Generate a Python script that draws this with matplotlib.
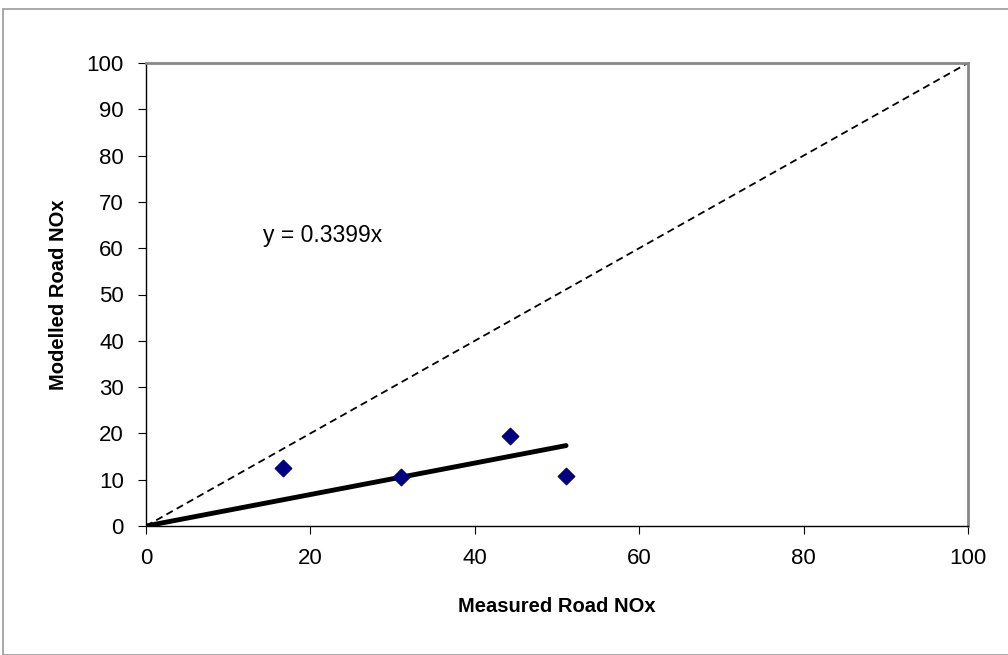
import numpy as np
import matplotlib.pyplot as plt
from matplotlib.patches import Rectangle

plt.rcParams['font.family'] = ['Liberation Sans', 'DejaVu Sans']

## measured vs modelled road NOx
measured = [16.7, 31.0, 44.3, 51.1]
modelled = [12.5, 10.5, 19.4, 10.9]
slope = 0.3399

fig = plt.figure(figsize=(10.08, 6.55), dpi=100)
ax = fig.add_axes([146/1008, 1-526/655, (968-146)/1008, (526-63)/655])

# outer chart border
fig.patches.append(Rectangle((3/1008, 0), 1.0, 1-9/655, transform=fig.transFigure,
                             fill=False, edgecolor='#999999', linewidth=1.2))

# 1:1 line
ax.plot([0, 100], [0, 100], color='black', linestyle=(0, (4, 2.5)), linewidth=1.3)

# trendline through origin
xt = np.array([0, max(measured)])
ax.plot(xt, slope*xt, color='black', linewidth=3.5, solid_capstyle='round')

ax.scatter(measured, modelled, marker='D', s=70, color='#000080', zorder=3)

ax.text(14.2, 62.8, 'y = 0.3399x', fontsize=16.5, va='center')

ax.set_xlim(0, 100)
ax.set_ylim(0, 100)
ax.set_xticks(np.arange(0, 101, 20))
ax.set_yticks(np.arange(0, 101, 10))
ax.tick_params(direction='out', length=6, labelsize=16, pad=10)

for s in ['top', 'right']:
    ax.spines[s].set_color('#888888')
    ax.spines[s].set_linewidth(2)
for s in ['left', 'bottom']:
    ax.spines[s].set_color('black')
    ax.spines[s].set_linewidth(1)

ax.set_xlabel('Measured Road NOx', fontsize=14.5, fontweight='bold', labelpad=20)
ax.set_ylabel('Modelled Road NOx', fontsize=14.5, fontweight='bold', labelpad=13)

fig.savefig('out.png', dpi=100)
